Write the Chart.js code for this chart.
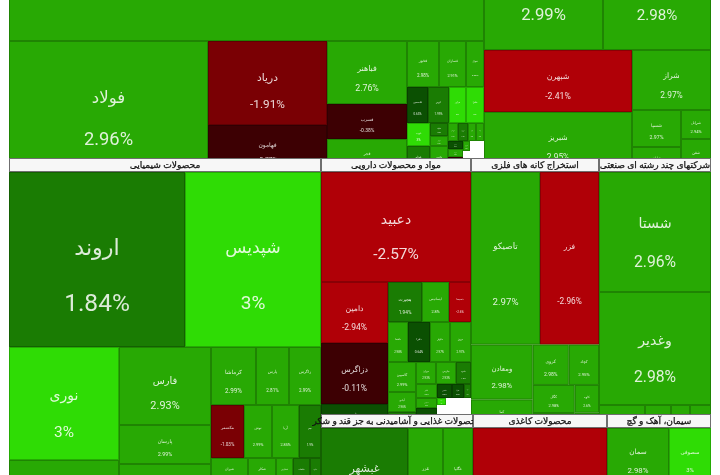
<!DOCTYPE html>
<html>
<head>
<meta charset="utf-8">
<style>
  html, body { margin: 0; padding: 0; background: #fff; }
  canvas { display: block; }
</style>
<script src="https://cdn.jsdelivr.net/npm/chart.js@4/dist/chart.umd.min.js"></script>
</head>
<body>
<canvas id="map" width="720" height="475"></canvas>
<script>
// leaf marker for the shape lists below
const L = 1;

// sectors, in drawing order
const sectorTitles = ['فلزات اساسی', 'فرآورده های نفتی', 'محصولات شیمیایی', 'مواد و محصولات دارویی',
    'استخراج کانه های فلزی', 'شرکتهای چند رشته ای صنعتی',
    'محصولات غذایی و آشامیدنی به جز قند و شکر', 'محصولات کاغذی', 'سیمان، آهک و گچ'];
const sectorShape = [[L, L], [L, [[L, L, L], [L, L, L]]]];

// each sector: symbols, % change, market size, nesting
const metalSymbols = ['فملی', 'فولاد', 'دریاد', 'فهامون', 'فباهنر', 'فسرب', 'فجر', 'فخوز', 'فسازان', 'فنوال',
    'فاسمین', 'کویر', 'فرآور', 'فافزا', 'ذوب', 'فجام', 'فلوله', 'هرمز', 'فگستر', 'فروس', 'فزرین', 'فایرا',
    'فپنتا', 'فسپا', 'فمراد', 'فوکا', 'فاهواز', '', ''];
const metalChanges = [2.95, 2.96, -1.91, -0.77, 2.76, -0.38, 2.9, 2.98, 2.91, 2.98,
    0.63, 1.99, 3, 3, 3, 1.5, 1.8, 2.9, 2.9, 2.7, 1.6, 2.8, 2.6,
    0.7, 2.9, -0.4, 2.9, null, null];
const metalSizes = [142975, 26069, 9996, 5593, 5040, 2800, 2640, 1472, 1242, 828,
    756, 756, 612, 648, 529, 598, 234, 180, 468, 180, 180, 144, 144,
    120, 120, 225, 70, 140, 441];
const metalShape = [L, [L, [L, L], [L, L, L],
    [[L, L, L], [L, L, L, L],
     [[L, L], [L, L, L], [[L, L, L, L], [[L, L, L], [[L, L], L]]]]]]];

const oilSymbols = ['شپنا', 'شتران', 'شبندر', 'شبهرن', 'شبریز', 'شراز', 'شسپا', 'شاوان', 'شرانل', 'شفن'];
const oilChanges = [2.95, 2.99, 2.98, -2.41, 2.95, 2.97, 2.97, 2.9, 2.94, 2.82];
const oilSizes = [38590, 16660, 15120, 9176, 8880, 4740, 1813, 1225, 870, 990];
const oilShape = [L, [L, L], [[L, L], [L, [[L, L], [L, L]]]]];

const chemSymbols = ['اروند', 'شپدیس', 'نوری', 'پترول', 'فارس', 'پارسان', 'شخارک', 'کرماشا', 'پارس', 'زاگرس',
    'مکسمر', 'نوش', 'آریا', 'جم', 'شیران', 'شکلر', 'شفارس', 'شلعاب', 'شگویا', 'شاراک'];
const chemChanges = [1.84, 3, 3, 2.9, 2.93, 2.99, 2.9, 2.99, 2.81, 2.99,
    -1.03, 2.99, 2.85, 1.9, 2.9, 2.99, 2.6, 1.5, 1.4, 2.9];
const chemSizes = [30800, 23800, 12430, 15400, 7176, 3588, 12512, 2610, 1914, 1856,
    1749, 1484, 1431, 1166, 962, 728, 442, 442, 286, 12760];
const chemShape = [[L, L], [[L, L], [L, L, L], [[L, L, L], [L, L, L, L], [L, L, L, L, L], L]]];

const drugSymbols = ['دعبید', 'دامین', 'دزاگرس', 'داوه', 'هجیرت', 'ایساتیس', 'دسبحا', 'دلقما', 'دفرا', 'دکوثر', 'دروز',
    'کاسپین', 'آبادی', 'دتماد', 'دیران', 'دپارس', 'داسوه', 'دالبر', 'دشیمی', 'دارو', 'دکیمی', 'دفارا', 'دتولید', 'دسینا', '', ''];
const drugChanges = [-2.57, -2.94, -0.11, 0.8, 1.94, 2.8, -2.6, 2.98, 0.64, 2.97, 2.97,
    2.99, 2.96, 1.5, 2.93, 2.93, 1.5, 2.9, 2.9, 0.6, 0.6, 0.5, 1.2, 3, null, null];
const drugSizes = [16500, 4087, 4087, 1608, 1360, 1080, 880, 800, 880, 800, 840,
    840, 560, 448, 440, 440, 330, 294, 210, 420, 210, 168, 98, 63, 175, 782];
const drugShape = [L, [[L, L, L], [[L, L, L], [L, L, L, L],
    [[L, L, L], [[L, L, L], [[L, L, L], [[L, L, L], [L, L], L]]]]]]];

const mineSymbols = ['تاصیکو', 'فزر', 'ومعادن', 'کما', 'کروی', 'کچاد', 'کگل', 'کنور', 'کاوه', 'کپرور', 'کسرا'];
const mineChanges = [2.97, -2.96, 2.98, 2.9, 2.98, 2.95, 2.98, 2.9, 2.6, 2.7, 2.8];
const mineSizes = [11799, 10089, 3360, 1740, 1443, 1209, 1170, 624, 667, 368, 299];
const mineShape = [[L, L], [[L, L], [[L, L], [[L, L], [L, L]]]]];

const holdingSymbols = ['شستا', 'وغدیر', 'وصندوق', 'وبشهر', 'وساپا', 'وسپه'];
const holdingChanges = [2.96, 2.98, 2.9, 2.9, 2.9, 2.9];
const holdingSizes = [13440, 12656, 1058, 598, 437, 483];
const holdingShape = [L, L, [L, L, L, L]];

const foodSymbols = ['غبشهر', 'غزر', 'غگلپا', 'غپاک'];
const foodChanges = [1.5, 2.9, 2.9, 2.9];
const foodSizes = [8265, 3325, 2850, 11704];
const foodShape = [[L, L, L], L];

const paperSymbols = ['چکاپا'];
const paperChanges = [-2.7];
const paperSizes = [23048];
const paperShape = [L];

const cementSymbols = ['سمان', 'سصوفی', 'سفار'];
const cementChanges = [2.98, 3, 2.9];
const cementSizes = [3472, 2352, 12064];
const cementShape = [[L, L], L];

// the map runs past the top and bottom of the window
const mapLeft = 9, mapRight = 711, mapTop = -260, mapBottom = 600;
const titleHeight = 14;

const sectors = [
    [metalSymbols, metalChanges, metalSizes, metalShape],
    [oilSymbols, oilChanges, oilSizes, oilShape],
    [chemSymbols, chemChanges, chemSizes, chemShape],
    [drugSymbols, drugChanges, drugSizes, drugShape],
    [mineSymbols, mineChanges, mineSizes, mineShape],
    [holdingSymbols, holdingChanges, holdingSizes, holdingShape],
    [foodSymbols, foodChanges, foodSizes, foodShape],
    [paperSymbols, paperChanges, paperSizes, paperShape],
    [cementSymbols, cementChanges, cementSizes, cementShape]
];

const sum = arr => arr.reduce((a, b) => a + b, 0);

// colour steps of the site: one shade per whole percent
function colorFor(change) {
    if (change === null) return '#ffffff';
    if (change >= 3) return '#2fdc05';
    if (change >= 2) return '#28a904';
    if (change >= 1) return '#1a7c03';
    if (change >= 0) return '#0b5002';
    if (change > -1) return '#3d0003';
    if (change > -2) return '#7a0004';
    return '#b00007';
}

// walks a shape, taking leaves in order from sizes. rows and columns alternate
function weigh(shape, sizes, pos) {
    if (shape === L) return { size: sizes[pos.i], leaf: pos.i++ };
    const kids = shape.map(s => weigh(s, sizes, pos));
    return { size: sum(kids.map(k => k.size)), kids };
}

function place(node, box, stacked, out) {
    if (node.kids === undefined) {
        out[node.leaf] = box;
        return;
    }
    let at = stacked ? box.y0 : box.x0;
    const span = stacked ? box.y1 - box.y0 : box.x1 - box.x0;
    node.kids.forEach(k => {
        const end = at + span * k.size / node.size;
        const b = stacked ? { x0: box.x0, x1: box.x1, y0: at, y1: end }
                          : { x0: at, x1: end, y0: box.y0, y1: box.y1 };
        place(k, b, !stacked, out);
        at = end;
    });
}

// build the cells in axis units
const sectorSizes = sectors.map(s => sum(s[2]));
const sectorBoxes = [];
place(weigh(sectorShape, sectorSizes, { i: 0 }),
    { x0: mapLeft, x1: mapRight, y0: mapTop, y1: mapBottom }, true, sectorBoxes);

const datasets = sectors.map((s, n) => {
    const boxes = [];
    place(weigh(s[3], s[2], { i: 0 }), sectorBoxes[n], true, boxes);
    return {
        label: sectorTitles[n],
        box: sectorBoxes[n],
        pointRadius: 0,
        data: boxes.map((b, i) => ({
            x: (b.x0 + b.x1) / 2, y: (b.y0 + b.y1) / 2,
            box: b, symbol: s[0][i], change: s[1][i]
        }))
    };
});

const FONT = 'Roboto, "Noto Sans", "DejaVu Sans", sans-serif';

// draws cells and sector titles from the chart's own scales
const treemapPlugin = {
    id: 'treemap',
    afterDatasetsDraw(chart) {
        const { ctx, scales: { x, y } } = chart;
        const px = b => ({
            l: x.getPixelForValue(b.x0), r: x.getPixelForValue(b.x1),
            t: y.getPixelForValue(b.y0), b: y.getPixelForValue(b.y1)
        });
        ctx.save();
        ctx.textAlign = 'center';
        ctx.textBaseline = 'middle';
        chart.data.datasets.forEach(ds => {
            ds.data.forEach(d => {
                const p = px(d.box);
                const w = p.r - p.l, h = p.b - p.t;
                ctx.fillStyle = colorFor(d.change);
                ctx.fillRect(p.l, p.t, w, h);
                if (d.change === null) return;
                ctx.strokeStyle = 'rgba(0,0,0,0.22)';
                ctx.lineWidth = 1;
                ctx.strokeRect(p.l + 0.5, p.t + 0.5, w - 1, h - 1);

                // label stays inside its cell
                const size = Math.min(w, h);
                ctx.save();
                ctx.beginPath();
                ctx.rect(p.l, p.t, w, h);
                ctx.clip();
                ctx.fillStyle = 'rgba(255,255,255,0.85)';
                ctx.font = (size * 0.127) + 'px ' + FONT;
                ctx.direction = 'rtl';
                ctx.fillText(d.symbol, (p.l + p.r) / 2, p.t + h * 0.43 + size * 0.01);
                ctx.direction = 'ltr';
                ctx.font = (size * 0.14) + 'px ' + FONT;
                ctx.fillText(d.change + '%', (p.l + p.r) / 2, p.t + h * 0.75 + size * 0.01);
                ctx.restore();
            });

            // title bar sits on top of whatever is above the sector
            const p = px(ds.box);
            const top = y.getPixelForValue(ds.box.y0 - titleHeight);
            ctx.fillStyle = '#f7f7f7';
            ctx.fillRect(p.l, top, p.r - p.l, p.t - top);
            ctx.strokeStyle = 'rgba(0,0,0,0.55)';
            ctx.lineWidth = 1;
            ctx.strokeRect(p.l + 0.5, top + 0.5, p.r - p.l - 1, p.t - top - 1);
            ctx.fillStyle = '#111';
            ctx.font = '9.1px ' + FONT;
            ctx.direction = 'rtl';
            const tx = (p.l + p.r) / 2, ty = (top + p.t) / 2 + 0.5;
            ctx.fillText(ds.label, tx, ty);
            // the site's titles look heavier than a plain weight
            ctx.strokeStyle = '#111';
            ctx.lineWidth = 0.25;
            ctx.strokeText(ds.label, tx, ty);
            ctx.direction = 'ltr';
        });
        ctx.restore();
    }
};

new Chart(document.getElementById('map'), {
    type: 'scatter',
    data: { datasets },
    plugins: [treemapPlugin],
    options: {
        responsive: false,
        animation: false,
        layout: { padding: 0 },
        events: [],
        plugins: { legend: { display: false }, tooltip: { enabled: false } },
        scales: {
            x: { type: 'linear', min: 0, max: 720, display: false },
            y: { type: 'linear', min: 0, max: 475, reverse: true, display: false }
        }
    }
});
</script>
</body>
</html>
